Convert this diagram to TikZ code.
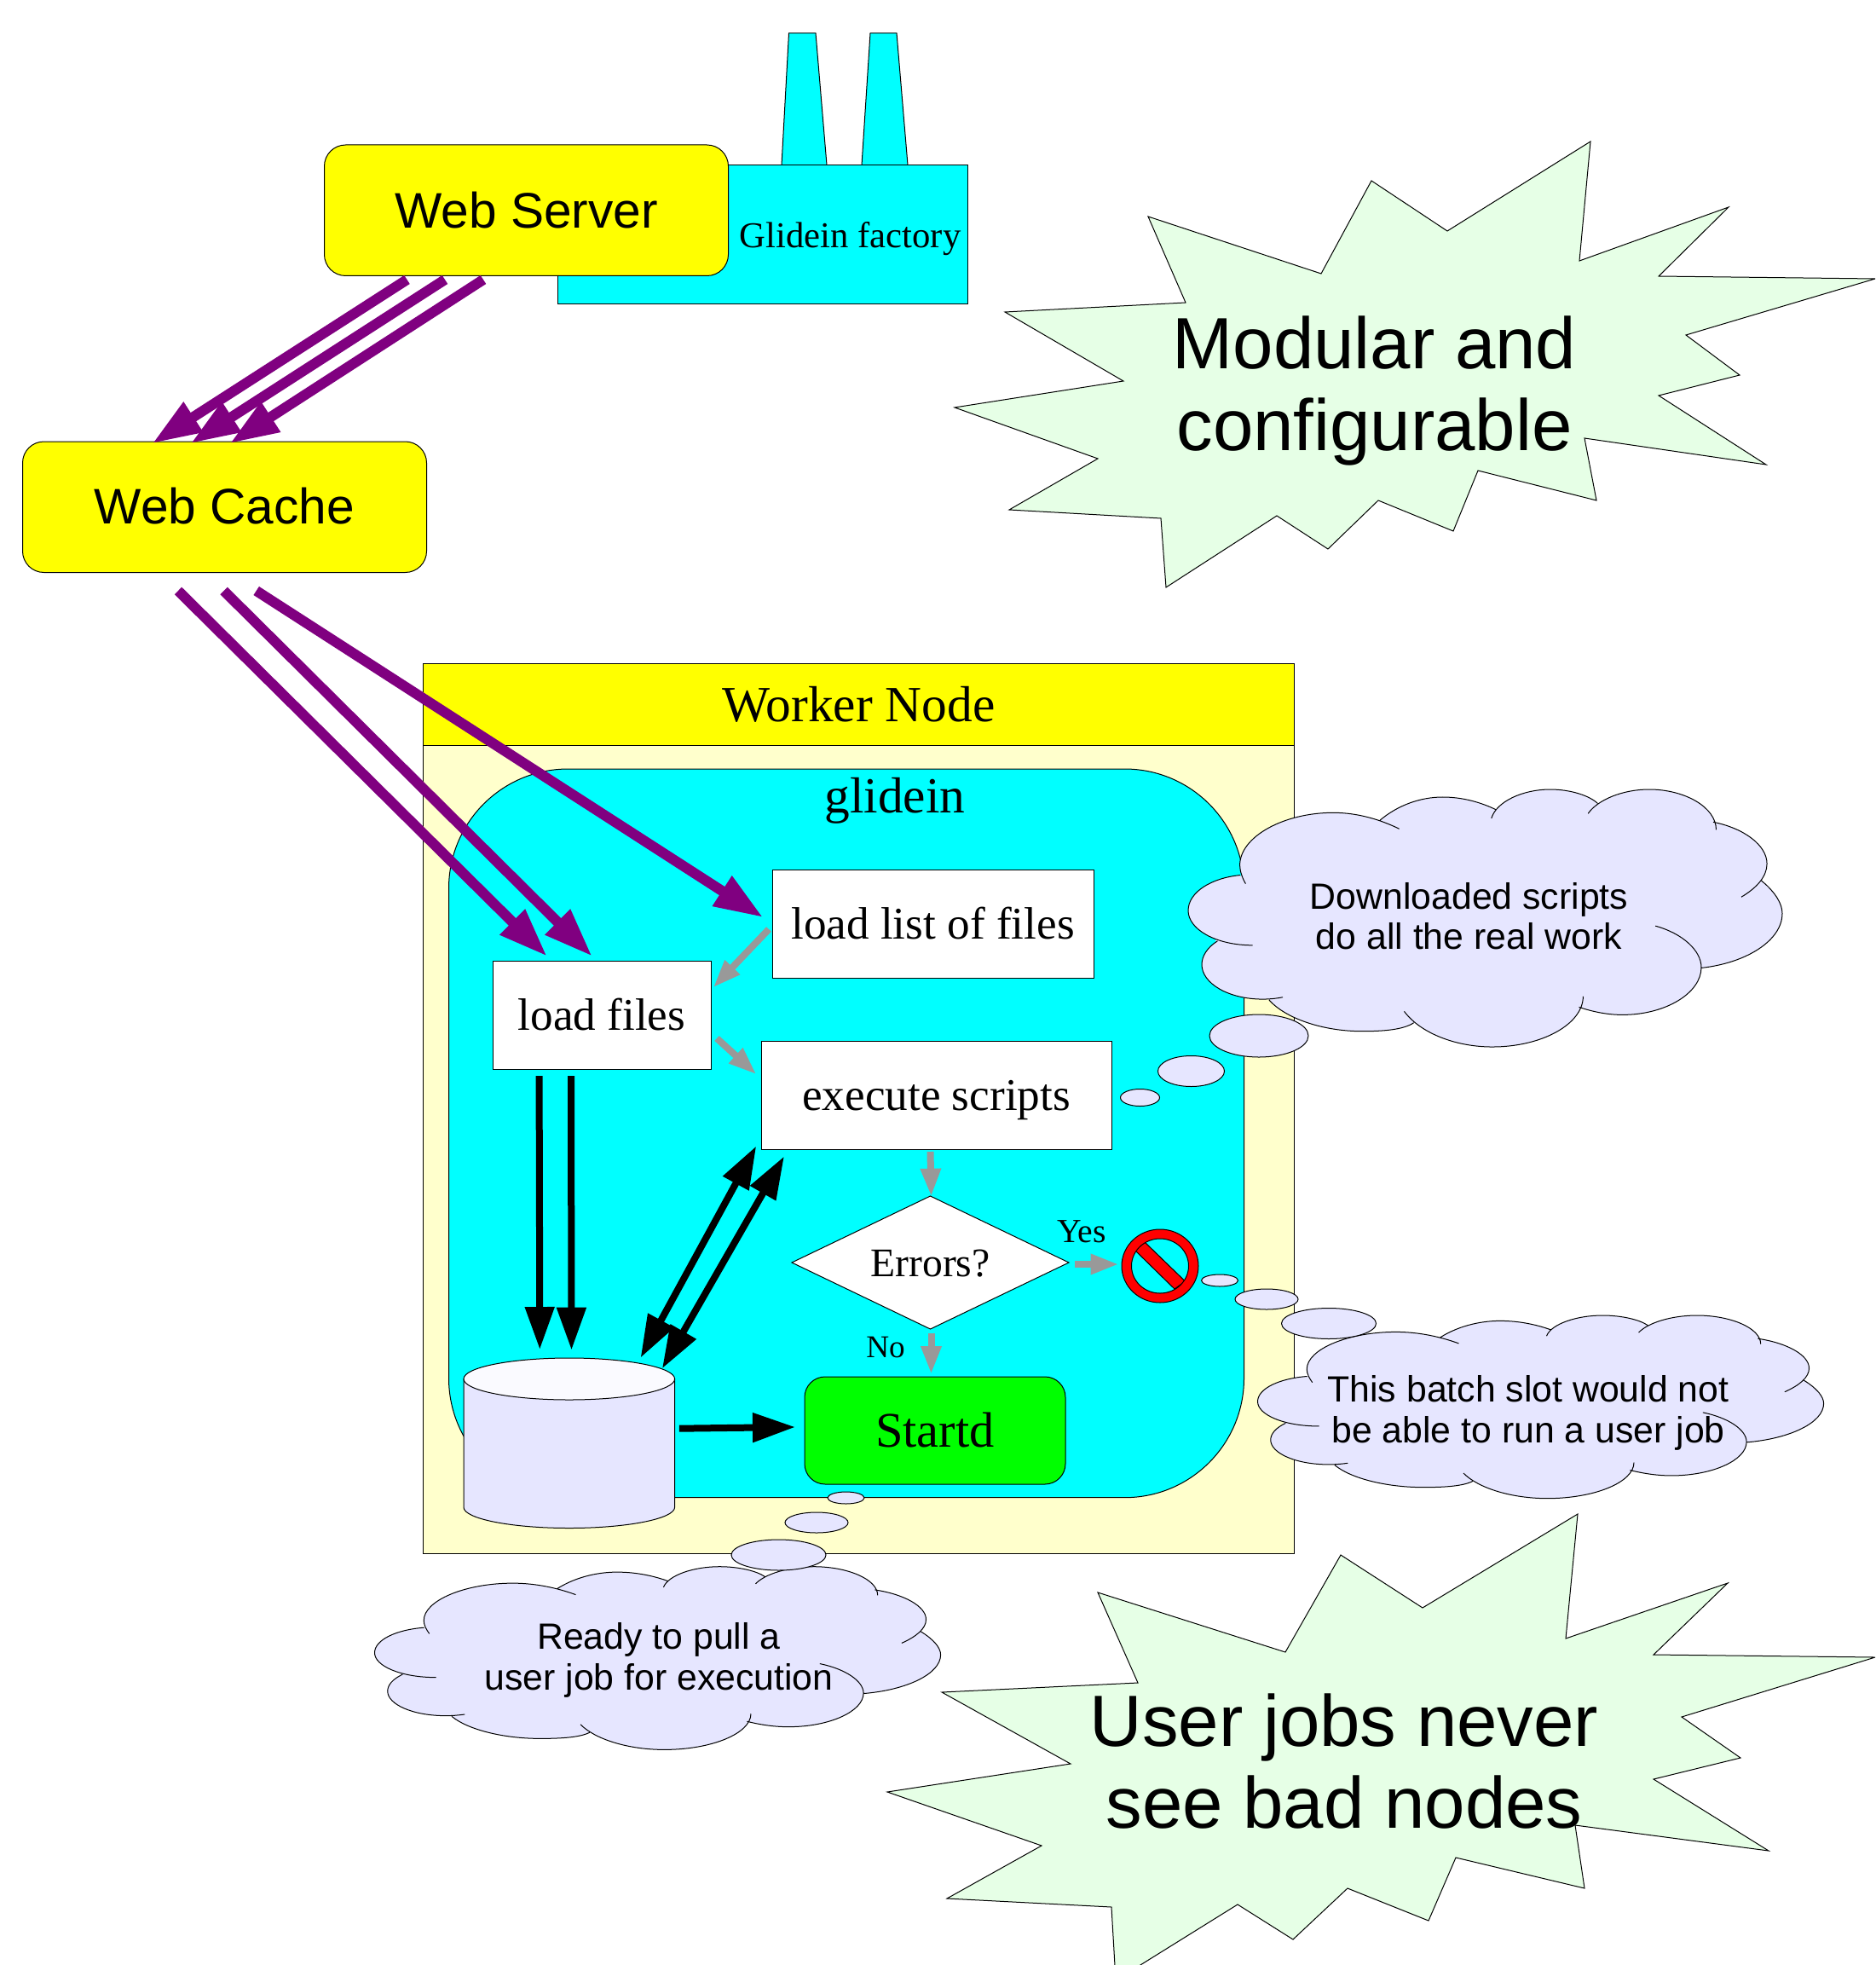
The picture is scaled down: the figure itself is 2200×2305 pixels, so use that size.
\documentclass[tikz,border=0pt]{standalone}
\usepackage{fontspec}
\setmainfont{Liberation Serif}
\newfontfamily\sansf{Liberation Sans}
\usetikzlibrary{arrows.meta,shapes.geometric}
\definecolor{starfill}{HTML}{E6FFE6}
\definecolor{cloudfill}{HTML}{E6E6FF}
\definecolor{cyltop}{HTML}{FAFAFF}
\definecolor{bodyfill}{HTML}{FFFFCC}
\definecolor{purp}{HTML}{800080}
\definecolor{grayarrow}{HTML}{999999}
\definecolor{purecyan}{HTML}{00FFFF}
\definecolor{pureyellow}{HTML}{FFFF00}
\definecolor{puregreen}{HTML}{00FF00}
\definecolor{purered}{HTML}{FF0000}
\newcommand{\lobes}{%
 (208,410) .. controls (200,390) and (194,365) .. (194,345) .. controls (194,245) and (300,160) .. (420,160) .. controls (480,160) and (535,185) .. (580,217)
 (533,187) .. controls (575,135) and (630,105) .. (685,105) .. controls (735,105) and (780,125) .. (815,150)
 (803,180) .. controls (815,120) and (880,78) .. (945,78) .. controls (995,78) and (1040,100) .. (1060,127)
 (1037,163) .. controls (1060,115) and (1120,78) .. (1185,78) .. controls (1270,78) and (1347,140) .. (1347,220)
 (1340,193) .. controls (1415,215) and (1470,275) .. (1470,340) .. controls (1470,385) and (1445,425) .. (1408,457)
 (1457,400) .. controls (1490,440) and (1507,480) .. (1507,515) .. controls (1507,610) and (1420,690) .. (1310,707)
 (1200,559) .. controls (1265,585) and (1311,645) .. (1311,705) .. controls (1311,795) and (1225,872) .. (1120,872) .. controls (1085,872) and (1050,862) .. (1015,845)
 (1025,807) .. controls (1025,905) and (925,985) .. (805,985) .. controls (715,985) and (630,935) .. (592,860)
 (615,900) .. controls (590,925) and (540,930) .. (490,930) .. controls (395,930) and (305,885) .. (265,820)
 (298,810) .. controls (280,815) and (265,817) .. (250,817) .. controls (165,817) and (102,760) .. (102,695) .. controls (102,665) and (115,635) .. (140,612)
 (225,627) .. controls (135,627) and (69,570) .. (69,505) .. controls (69,440) and (125,390) .. (195,380)}
\newcommand{\cloudshape}{%
 \fill[cloudfill] (197,380)--(533,187)--(685,125)--(812,150)--(1060,127)--(1340,193)--(1457,400)--(1470,500)--(1310,707)--(1020,845)--(615,900)--(450,900)--(265,820)--(135,612)--cycle;
 \path[fill=cloudfill,draw=black,thinline] \lobes;}
\tikzset{
 thinline/.style={line width=0.5pt},
 plain/.style={draw=black,thinline,inner sep=0pt,outer sep=0pt},
 baseat/.style={text depth=0pt,text height=#1},
 serifbig/.style={font=\fontsize{29.7}{33}\selectfont},
 boxtext/.style={font=\fontsize{26.6}{30}\selectfont},
 webbox/.style={plain,fill=pureyellow,rounded corners=12.5pt,minimum width=237pt,minimum height=76.75pt,font=\sansf\fontsize{29.3}{33}\selectfont},
 filebox/.style={plain,fill=white,boxtext},
 startext/.style={font=\sansf\fontsize{42.6}{48}\selectfont,align=center,inner sep=0pt},
 cloudtext/.style={font=\sansf\fontsize{21.4}{23.6}\selectfont,align=center,inner sep=0pt},
 star/.style={draw=black,thinline,fill=starfill,line join=miter},
 bubble/.style={draw=black,thinline,fill=cloudfill},
 purplearrow/.style={draw=purp,line width=6pt,shorten >=-2pt,-{Triangle[length=28.7pt,width=19.5pt]}},
 greyarrow/.style={draw=grayarrow,line width=4pt,shorten >=-1pt,-{Triangle[length=16.5pt,width=11.2pt]}},
 blackarrow/.style={draw=black,line width=4pt,shorten >=-1.5pt,-{Triangle[length=25pt,width=16.5pt]}},
 bothway/.style={draw=black,line width=4pt,shorten >=-1.5pt,shorten <=-1.5pt,{Triangle[length=25pt,width=16.5pt]}-{Triangle[length=25pt,width=16.5pt]}},
}
\begin{document}
\begin{tikzpicture}[x=0.5pt,y=-0.5pt]
\path[use as bounding box,fill=white] (0,0) rectangle (2200,2305);
\clip (0,0) rectangle (2200,2305);

% factory
\draw[fill=purecyan,thinline] (917,193.5)--(925.5,39)--(957,39)--(970,193.5);
\draw[fill=purecyan,thinline] (1011,193.5)--(1021,39)--(1052,39)--(1065,193.5);
\node[plain,fill=purecyan,minimum width=240.5pt,minimum height=81.5pt] (factory) at (894.5,275) {};
\node[anchor=base,inner sep=0pt,font=\fontsize{21.35}{24}\selectfont] (factorytext) at (997.5,291) {Glidein factory};
\node[webbox,baseat=21pt] (server) at (617.5,246.75) {Web Server};
\node[webbox,baseat=20pt] (cache) at (263.5,594.75) {Web Cache};

% starbursts
\draw[star] (1866,166)--(1853,306)--(2028,243)--(1946,324)--(2200,327)--(1978,393)--(2041,440)--(1946,464)--(2072,545)--(1859,514)--(1873,587)--(1734,552)--(1705,623)--(1617,587)--(1558,644)--(1498,605)--(1368,689)--(1362,608)--(1184,598)--(1288,538)--(1120,478)--(1318,447)--(1179,366)--(1391,355)--(1347,254)--(1550,321)--(1609,212)--(1698,271)--cycle;
\node[startext] (modular) at (1612.5,458.5) {Modular and\\configurable};
\draw[star] (1851,1776)--(1837,1922)--(2027,1857)--(1940,1941)--(2200,1944)--(1973,2014)--(2042,2062)--(1940,2087)--(2075,2171)--(1848,2141)--(1859,2215)--(1708,2179)--(1676,2253)--(1581,2215)--(1517,2275)--(1452,2234)--(1309,2323)--(1304,2237)--(1111,2227)--(1222,2165)--(1041,2102)--(1256,2069)--(1105,1985)--(1335,1974)--(1288,1868)--(1508,1938)--(1573,1824)--(1669,1886)--cycle;
\node[startext] (never) at (1577,2066.5) {User jobs never\\see bad nodes};

% worker node
\node[plain,fill=bodyfill,minimum width=511pt,minimum height=474pt] (workerbody) at (1007.5,1348) {};
\node[plain,fill=pureyellow,minimum width=511pt,minimum height=48pt,serifbig,baseat=20pt] (workerhead) at (1007.5,826) {Worker Node};
\node[plain,fill=purecyan,rounded corners=70pt,minimum width=466.5pt,minimum height=427.35pt] (glidein) at (993,1329.35) {};
\node[anchor=base,inner sep=0pt,serifbig] (glideintext) at (1050,953) {glidein};

% boxes
\node[filebox,minimum width=188.5pt,minimum height=63.5pt,baseat=17.5pt] (listf) at (1094.5,1083.5) {load list of files};
\node[filebox,minimum width=128pt,minimum height=63.5pt,baseat=17.5pt] (loadf) at (706,1190.5) {load files};
\node[filebox,minimum width=205.5pt,minimum height=63.5pt,baseat=17.5pt] (exec) at (1098.5,1284.5) {execute scripts};
\node[diamond,plain,fill=white,aspect=2.08,minimum width=162.5pt,minimum height=78pt,font=\fontsize{23.8}{27}\selectfont,baseat=16pt] (errors) at (1091.5,1481) {Errors?};
\node[anchor=base,inner sep=0pt,font=\fontsize{19.8}{22}\selectfont] (yes) at (1269,1457) {Yes};
\node[anchor=base,inner sep=0pt,font=\fontsize{18.6}{21}\selectfont] (no) at (1039,1592) {No};
\node[plain,fill=puregreen,rounded corners=12pt,minimum width=153pt,minimum height=63pt,font=\fontsize{29.2}{33}\selectfont,baseat=19pt] (startd) at (1097,1678) {Startd};

% cylinder
\path[fill=cloudfill,draw=black,thinline] (544,1617.5)--(544,1768) .. controls (544,1781.5) and (599.5,1792.5) .. (667.8,1792.5) .. controls (736,1792.5) and (791.6,1781.5) .. (791.6,1768)--(791.6,1617.5)--cycle;
\draw[fill=cyltop,thinline] (667.8,1617.5) ellipse [x radius=123.8,y radius=24.5];

% no sign
\node[inner sep=0pt,minimum size=0pt] (nosign) at (1361,1485) {};
\draw[fill=purered,thinline] (1332,1467)--(1343,1457)--(1390.5,1503)--(1378,1512)--cycle;
\path[fill=purered,draw=black,thinline,even odd rule] (nosign) ellipse [x radius=45,y radius=43] (nosign) ellipse [x radius=33.5,y radius=32];

% purple arrows
\coordinate (s1) at (477.5,328); \coordinate (c1) at (182,518);
\coordinate (s2) at (522,328);   \coordinate (c2) at (227,518);
\coordinate (s3) at (567,328);   \coordinate (c3) at (273,518);
\draw[purplearrow] (s1)--(c1);
\draw[purplearrow] (s2)--(c2);
\draw[purplearrow] (s3)--(c3);
\coordinate (w1) at (209,693);   \coordinate (f1) at (639,1119);
\coordinate (w2) at (262.6,693); \coordinate (f2) at (692,1119);
\coordinate (w3) at (300.7,693); \coordinate (f3) at (892,1074);
\draw[purplearrow] (w1)--(f1);
\draw[purplearrow] (w2)--(f2);
\draw[purplearrow] (w3)--(f3);

% grey arrows
\coordinate (g1s) at (902,1090);  \coordinate (g1e) at (838,1157);
\coordinate (g2s) at (841,1218);  \coordinate (g2e) at (886,1259);
\coordinate (g3s) at (1091.5,1351); \coordinate (g3e) at (1092.5,1401.7);
\coordinate (g4s) at (1261,1483); \coordinate (g4e) at (1310.6,1483);
\coordinate (g5s) at (1092.5,1564); \coordinate (g5e) at (1092.5,1610);
\draw[greyarrow] (g1s)--(g1e);
\draw[greyarrow] (g2s)--(g2e);
\draw[greyarrow] (g3s)--(g3e);
\draw[greyarrow] (g4s)--(g4e);
\draw[greyarrow] (g5s)--(g5e);

% black arrows
\coordinate (k1s) at (632.6,1262); \coordinate (k1e) at (633.3,1580);
\coordinate (k2s) at (670,1262);   \coordinate (k2e) at (670.5,1580.7);
\draw[blackarrow] (k1s)--(k1e);
\draw[blackarrow] (k2s)--(k2e);
\coordinate (d1a) at (885.8,1347); \coordinate (d1b) at (753,1590);
\coordinate (d2a) at (918.5,1359); \coordinate (d2b) at (778.4,1602.7);
\draw[bothway] (d1a)--(d1b);
\draw[bothway] (d2a)--(d2b);
\coordinate (k3s) at (796.8,1675.7); \coordinate (k3e) at (930,1674);
\draw[blackarrow] (k3s)--(k3e);

% clouds
\begin{scope}[shift={(1394,926)},xscale=.4847,yscale=.333,shift={(-69,-78)}]
\cloudshape
\end{scope}
\draw[bubble] (1477,1215) ellipse [x radius=58,y radius=25];
\draw[bubble] (1397.5,1256.5) ellipse [x radius=39,y radius=18];
\draw[bubble] (1337.5,1287.5) ellipse [x radius=23,y radius=10];
\node[cloudtext] (cloudA) at (1723.5,1075) {Downloaded scripts\\do all the real work};

\begin{scope}[shift={(1475.5,1543)},xscale=.4618,yscale=.2367,shift={(-69,-78)}]
\cloudshape
\end{scope}
\draw[bubble] (1431,1502) ellipse [x radius=21.5,y radius=7];
\draw[bubble] (1486,1524) ellipse [x radius=37,y radius=12];
\draw[bubble] (1559,1552.5) ellipse [x radius=55.5,y radius=18];
\node[cloudtext] (cloudB) at (1793,1657.5) {This batch slot would not\\be able to run a user job};

\begin{scope}[shift={(439.5,1837.7)},xscale=.4618,yscale=.2367,shift={(-69,-78)}]
\cloudshape
\end{scope}
\draw[bubble] (992.5,1757) ellipse [x radius=21.5,y radius=7];
\draw[bubble] (958,1786) ellipse [x radius=37,y radius=12];
\draw[bubble] (913.5,1824) ellipse [x radius=55.5,y radius=18];
\node[cloudtext] (cloudC) at (773,1947.5) {Ready to pull a\\user job for execution};
\end{tikzpicture}
\end{document}
